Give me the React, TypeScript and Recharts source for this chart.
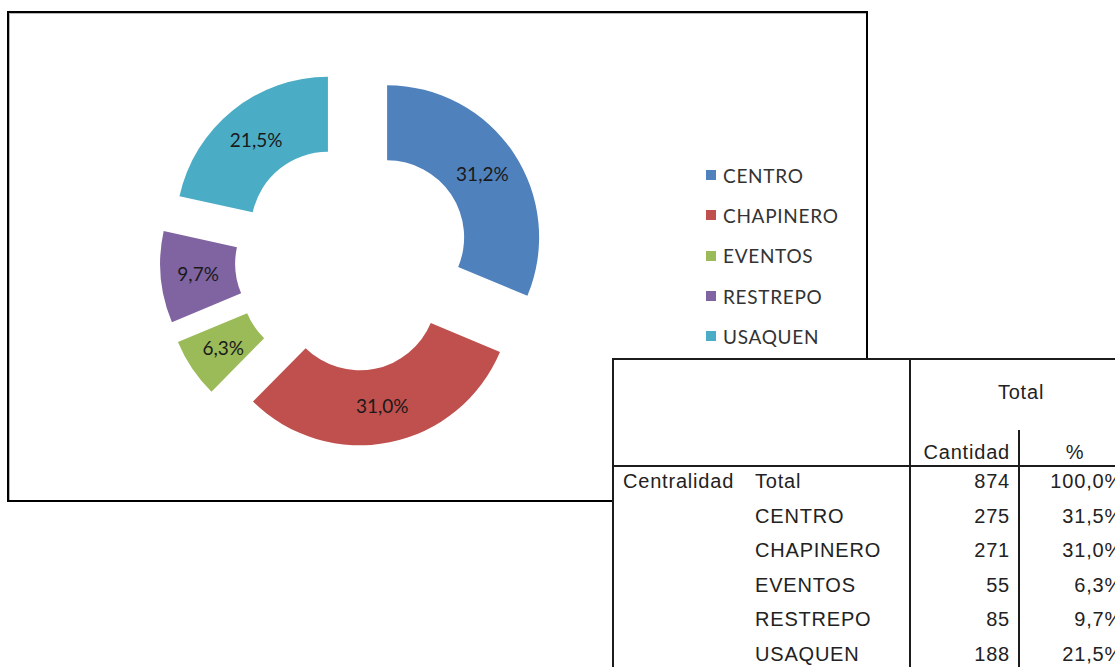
import { PieChart, Pie, Cell, Legend } from "recharts";

// chart data (labels read from the doughnut)
const categories = ["CENTRO", "CHAPINERO", "EVENTOS", "RESTREPO", "USAQUEN"];
const shares = [31.2, 31.0, 6.3, 9.7, 21.5];

// table data
const counts = [275, 271, 55, 85, 188];
const tableShares = [31.5, 31.0, 6.3, 9.7, 21.5];
const totalCount = 874;
const totalShare = 100.0;

const COLORS = ["#4F81BD", "#C0504D", "#9BBB59", "#8064A2", "#4BACC6"];
// point explosion per slice, px
const EXPLODE = [41, 34, 42, 41, 40];

const data = categories.map((name, i) => ({ name, value: shares[i] }));

const RAD = Math.PI / 180;
const total = shares.reduce((a, b) => a + b, 0);
let cum = 0;
const offsets = shares.map((v, i) => {
  const mid = 90 - (360 * (cum + v / 2)) / total;
  cum += v;
  return [EXPLODE[i] * Math.cos(mid * RAD), -EXPLODE[i] * Math.sin(mid * RAD)];
});

const fmt = (v: number) => v.toFixed(1).replace(".", ",") + "%";

const chartFont = "Lato, 'Open Sans', sans-serif";
const tableFont = "'Liberation Sans', Arial, sans-serif";

// eslint-disable-next-line @typescript-eslint/no-explicit-any
const renderLabel = (props: any) => {
  const { cx, cy, midAngle, innerRadius, outerRadius, index } = props;
  const r = (innerRadius + outerRadius) / 2 + EXPLODE[index];
  const x = cx + r * Math.cos(-midAngle * RAD);
  const y = cy + r * Math.sin(-midAngle * RAD);
  return (
    <text
      x={x}
      y={y}
      textAnchor="middle"
      dominantBaseline="central"
      fill="#1a1a1a"
      fontSize={19}
      fontFamily={chartFont}
    >
      {fmt(shares[index])}
    </text>
  );
};

// eslint-disable-next-line @typescript-eslint/no-explicit-any
const renderLegend = (props: any) => {
  const { payload } = props;
  return (
    <div>
      {payload.map((entry: any) => (
        <div
          key={entry.value}
          style={{
            display: "flex",
            alignItems: "center",
            height: 40.3,
            fontFamily: chartFont,
            fontSize: 19,
            color: "#333",
            letterSpacing: 0.7,
          }}
        >
          <span
            style={{
              display: "inline-block",
              width: 10,
              height: 10,
              background: entry.color,
              marginRight: 7,
            }}
          />
          {entry.value}
        </div>
      ))}
    </div>
  );
};

const line = "#1c1c1c";

function DataTable() {
  const rowTop = 465;
  const rowH = 34.6;
  const rows = [
    { a: "Centralidad", b: "Total", n: totalCount, p: totalShare },
    ...categories.map((c, i) => ({ a: "", b: c, n: counts[i], p: tableShares[i] })),
  ];
  const txt = {
    position: "absolute" as const,
    fontFamily: tableFont,
    fontSize: 20,
    letterSpacing: 0.8,
    color: "#222",
    whiteSpace: "nowrap" as const,
  };
  return (
    <div
      style={{
        position: "absolute",
        left: 612,
        top: 358,
        width: 520,
        height: 330,
        background: "#fff",
        borderLeft: `2px solid ${line}`,
        borderTop: `2px solid ${line}`,
        zIndex: 3,
      }}
    >
      {/* grid lines, in table-local coords */}
      <div style={{ position: "absolute", left: 295, top: 0, width: 2, height: 330, background: line }} />
      <div style={{ position: "absolute", left: 404, top: 70, width: 2, height: 260, background: line }} />
      <div style={{ position: "absolute", left: 0, top: 105, width: 520, height: 2, background: line }} />

      <div style={{ ...txt, left: 297, width: 220, top: 21, textAlign: "center" }}>Total</div>
      <div style={{ ...txt, left: 297, width: 99, top: 81, textAlign: "right" }}>Cantidad</div>
      <div style={{ ...txt, left: 406, width: 110, top: 81, textAlign: "center" }}>%</div>

      {rows.map((r, i) => {
        const top = rowTop - 358 + i * rowH + 3;
        return (
          <div key={r.b + i}>
            <div style={{ ...txt, left: 9, top }}>{r.a}</div>
            <div style={{ ...txt, left: 141, top }}>{r.b}</div>
            <div style={{ ...txt, left: 297, width: 99, top, textAlign: "right" }}>{r.n}</div>
            <div style={{ ...txt, left: 406, width: 103, top, textAlign: "right" }}>{fmt(r.p)}</div>
          </div>
        );
      })}
    </div>
  );
}

export default function App() {
  return (
    <div
      style={{
        position: "absolute",
        left: 0,
        top: 0,
        width: 1115,
        height: 667,
        overflow: "hidden",
        background: "#fff",
      }}
    >
      <div style={{ position: "absolute", left: 0, top: 0 }}>
        <PieChart width={870} height={505} margin={{ top: 0, right: 0, bottom: 0, left: 0 }}>
          <Pie
            data={data}
            dataKey="value"
            nameKey="name"
            cx={353}
            cy={260}
            innerRadius={77}
            outerRadius={152}
            startAngle={90}
            endAngle={-270}
            stroke="none"
            label={renderLabel}
            labelLine={false}
            isAnimationActive={false}
          >
            {data.map((d, i) => (
              <Cell
                key={d.name}
                fill={COLORS[i]}
                transform={`translate(${offsets[i][0]}, ${offsets[i][1]})`}
              />
            ))}
          </Pie>
          <Legend
            layout="vertical"
            align="right"
            verticalAlign="top"
            content={renderLegend}
            wrapperStyle={{ left: 706, top: 155, width: 160 }}
          />
        </PieChart>
      </div>
      {/* chart frame */}
      <div
        style={{
          position: "absolute",
          left: 7,
          top: 11,
          width: 861,
          height: 491,
          boxSizing: "border-box",
          border: "2px solid #000",
          boxShadow: "inset 1px 1px 0 #b5b5b5",
          pointerEvents: "none",
          zIndex: 2,
        }}
      />
      <DataTable />
    </div>
  );
}
